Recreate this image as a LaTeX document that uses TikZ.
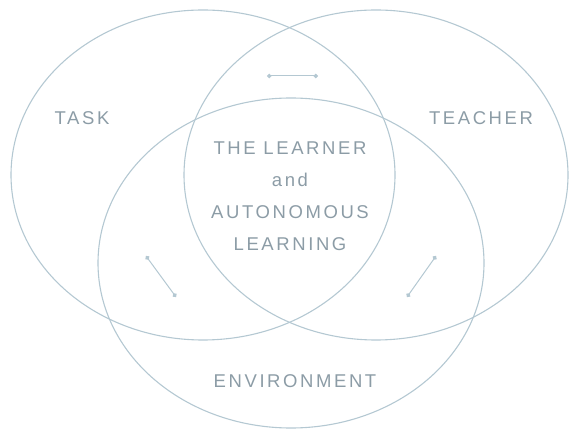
\documentclass[tikz,border=0pt]{standalone}
\usepackage{fontspec}
\setmainfont[LetterSpace=14]{Liberation Sans}
\usetikzlibrary{arrows.meta}

\definecolor{vennline}{RGB}{180,200,210}
\definecolor{venntext}{RGB}{140,156,166}

\begin{document}
\begin{tikzpicture}[x=1pt, y=-1pt,
  ring/.style={draw=vennline, line width=1.1pt},
  lbl/.style={text=venntext, font=\fontsize{18.5}{32}\selectfont, inner sep=0pt, align=center},
  link/.style={{Circle[length=4.5pt]}-{Circle[length=4.5pt]}, draw=vennline, line width=1pt}]

\useasboundingbox (0,0) rectangle (570,430);

% Los tres conjuntos
\draw[ring] (203,175) ellipse [x radius=192, y radius=165];
\draw[ring] (376,175) ellipse [x radius=192, y radius=165];
\draw[ring] (291,263) ellipse [x radius=193, y radius=165];

% Etiquetas
\node[lbl] (task) at (82,118) {TASK};
\node[lbl] (teacher) at (481,118) {TEACHER};
\node[lbl] (env) at (295,381) {ENVIRONMENT};
\node[lbl] (learner) at (290,196) {THE LEARNER\\and\\AUTONOMOUS\\LEARNING};

% Extremos de las flechas
\coordinate (t1) at (267,76);
\coordinate (t2) at (318,76);
\coordinate (l1) at (146,256);
\coordinate (l2) at (176,297);
\coordinate (r1) at (436,256);
\coordinate (r2) at (407,297);

% Relaciones entre pares
\draw[link] (t1) -- (t2);
\draw[link] (l1) -- (l2);
\draw[link] (r1) -- (r2);

\end{tikzpicture}
\end{document}
